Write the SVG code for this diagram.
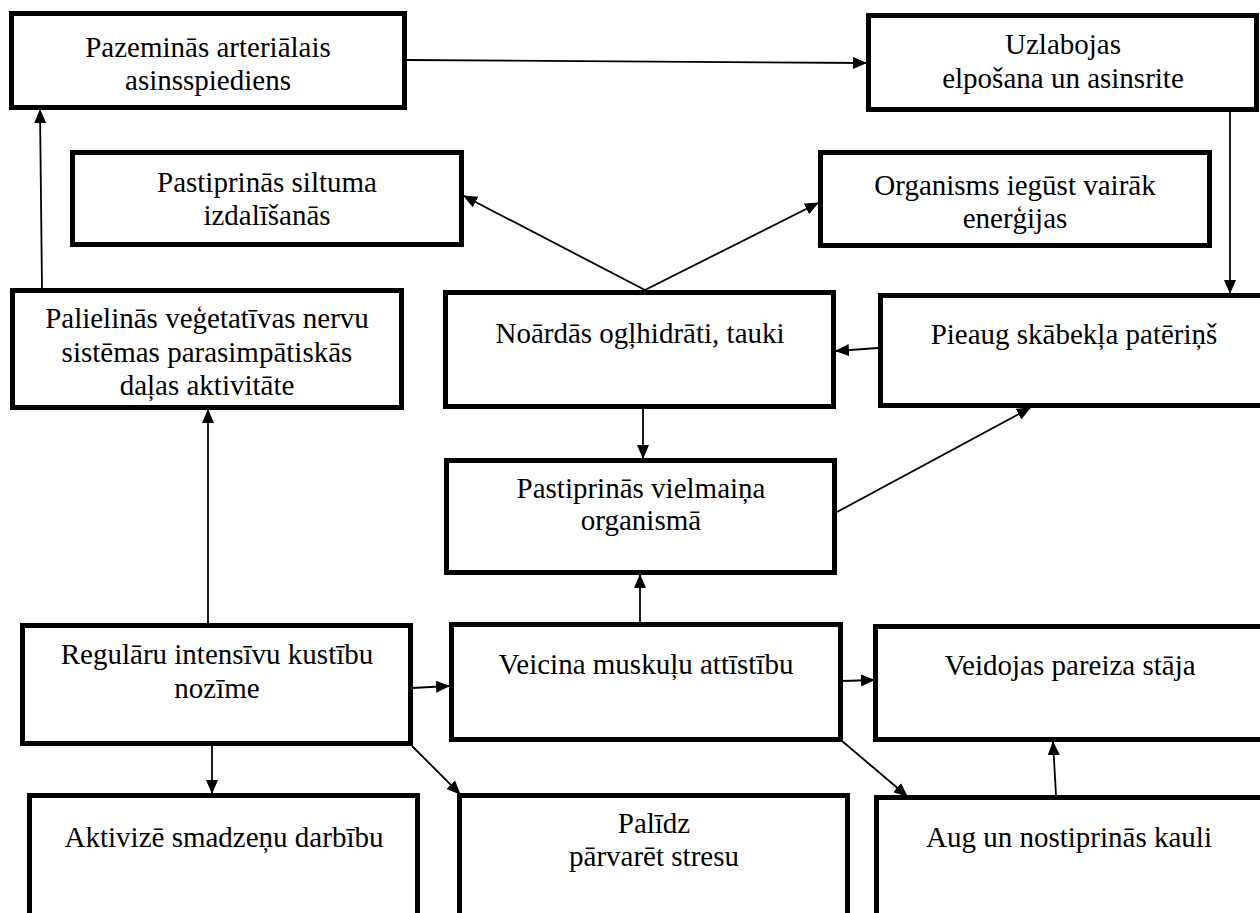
<svg xmlns="http://www.w3.org/2000/svg" width="1260" height="913" viewBox="0 0 1260 913">
<style>
.box{fill:#fff;stroke:#000;stroke-width:5}
.t{font-family:'Liberation Serif','Times New Roman',Tinos,'DejaVu Serif',serif;font-size:29px;fill:#000;text-anchor:middle}
.c{fill:none;stroke:#000;stroke-width:1.8}
</style>
<defs>
<marker id="ah" markerUnits="userSpaceOnUse" markerWidth="14" markerHeight="12" refX="13" refY="6" orient="auto">
<path d="M0,0 L14,6 L0,12 z" fill="#000"/>
</marker>
</defs>
<rect width="1260" height="913" fill="#fff"/>
<g id="connectors">
<path class="c" d="M407,60 L866,63" marker-end="url(#ah)"/>
<path class="c" d="M1230,112 L1230,293" marker-end="url(#ah)"/>
<path class="c" d="M42,288 L40,110" marker-end="url(#ah)"/>
<path class="c" d="M645,290 L464,196" marker-end="url(#ah)"/>
<path class="c" d="M645,290 L818,203" marker-end="url(#ah)"/>
<path class="c" d="M878,348 L836,351" marker-end="url(#ah)"/>
<path class="c" d="M643,409 L643,458" marker-end="url(#ah)"/>
<path class="c" d="M837,512 L1030,408" marker-end="url(#ah)"/>
<path class="c" d="M208,623 L208,410" marker-end="url(#ah)"/>
<path class="c" d="M640,622 L640,575" marker-end="url(#ah)"/>
<path class="c" d="M412,688 L449,686" marker-end="url(#ah)"/>
<path class="c" d="M842,681 L874,680" marker-end="url(#ah)"/>
<path class="c" d="M212,746 L212,793" marker-end="url(#ah)"/>
<path class="c" d="M412,746 L460,794" marker-end="url(#ah)"/>
<path class="c" d="M842,741 L907,796" marker-end="url(#ah)"/>
<path class="c" d="M1056,795 L1053,742" marker-end="url(#ah)"/>
</g>
<g id="n1"><rect class="box" x="11.5" y="13.5" width="393" height="94"/>
<text class="t" font-family="Liberation Serif" x="208" y="57">Pazeminās arteriālais</text><text class="t" x="208" y="90">asinsspiediens</text></g>
<g id="n2"><rect class="box" x="868.5" y="15.5" width="388" height="94"/>
<text class="t" x="1063" y="54">Uzlabojas</text><text class="t" x="1063" y="88">elpošana un asinsrite</text></g>
<g id="n3"><rect class="box" x="72.5" y="152.5" width="389" height="92"/>
<text class="t" x="267" y="192">Pastiprinās siltuma</text><text class="t" x="267" y="225">izdalīšanās</text></g>
<g id="n4"><rect class="box" x="820.5" y="152.5" width="389" height="93"/>
<text class="t" x="1015" y="195">Organisms iegūst vairāk</text><text class="t" x="1015" y="228">enerģijas</text></g>
<g id="n5"><rect class="box" x="12.5" y="290.5" width="389" height="117"/>
<text class="t" x="207" y="328">Palielinās veģetatīvas nervu</text><text class="t" x="207" y="362">sistēmas parasimpātiskās</text><text class="t" x="207" y="395">daļas aktivitāte</text></g>
<g id="n6"><rect class="box" x="445.5" y="292.5" width="388" height="114"/>
<text class="t" x="640" y="343">Noārdās ogļhidrāti, tauki</text></g>
<g id="n7"><rect class="box" x="880.5" y="295.5" width="390" height="110"/>
<text class="t" x="1074" y="344">Pieaug skābekļa patēriņš</text></g>
<g id="n8"><rect class="box" x="446.5" y="460.5" width="388" height="112"/>
<text class="t" x="641" y="498">Pastiprinās vielmaiņa</text><text class="t" x="641" y="530">organismā</text></g>
<g id="n9"><rect class="box" x="22.5" y="625.5" width="388" height="118"/>
<text class="t" x="217" y="664">Regulāru intensīvu kustību</text><text class="t" x="217" y="698">nozīme</text></g>
<g id="n10"><rect class="box" x="451.5" y="624.5" width="389" height="115"/>
<text class="t" x="646" y="674">Veicina muskuļu attīstību</text></g>
<g id="n11"><rect class="box" x="875.5" y="626.5" width="395" height="113"/>
<text class="t" x="1070" y="675">Veidojas pareiza stāja</text></g>
<g id="n12"><rect class="box" x="29.5" y="795.5" width="388" height="130"/>
<text class="t" x="224" y="847">Aktivizē smadzeņu darbību</text></g>
<g id="n13"><rect class="box" x="459.5" y="795.5" width="388" height="130"/>
<text class="t" x="654" y="833">Palīdz</text><text class="t" x="654" y="866">pārvarēt stresu</text></g>
<g id="n14"><rect class="box" x="876.5" y="797.5" width="395" height="130"/>
<text class="t" x="1069" y="847">Aug un nostiprinās kauli</text></g>
</svg>
